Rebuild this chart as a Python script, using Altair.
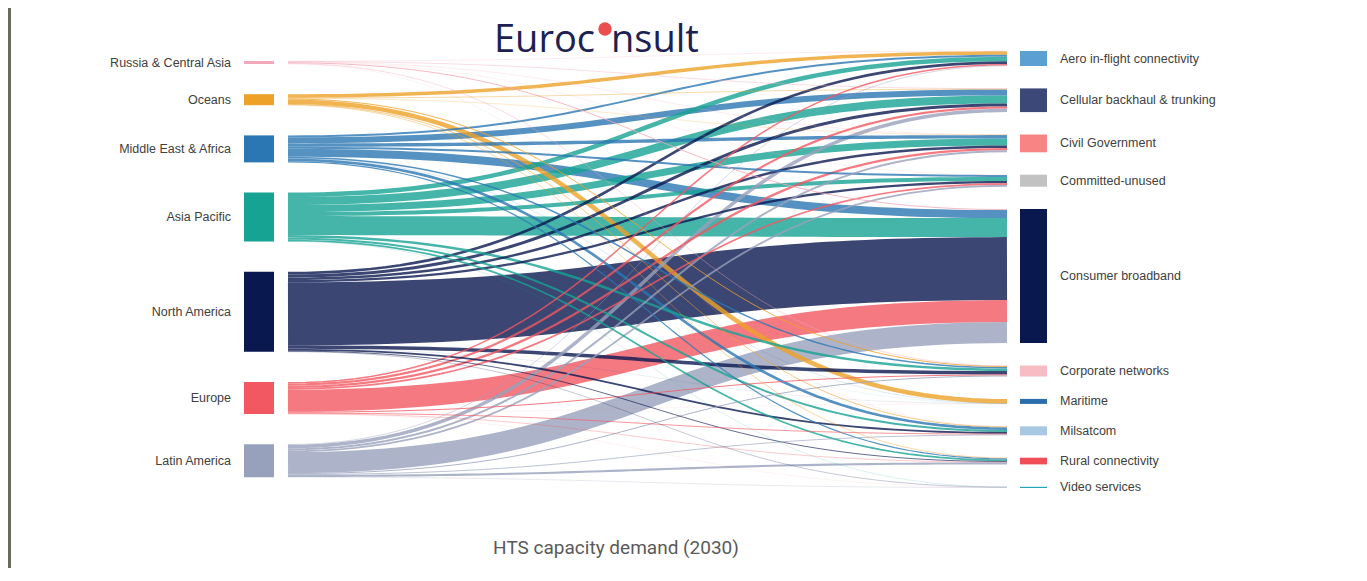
import altair as alt
import numpy as np
import pandas as pd

# ---------------- data ----------------
sources = ["Russia & Central Asia", "Oceans", "Middle East & Africa", "Asia Pacific",
           "North America", "Europe", "Latin America"]
source_colors = ["#f3a9b9", "#eda128", "#2b77b3", "#17a393", "#0a1850", "#f25862", "#98a1bb"]

targets = ["Aero in-flight connectivity", "Cellular backhaul & trunking", "Civil Government",
           "Committed-unused", "Consumer broadband", "Corporate networks", "Maritime",
           "Milsatcom", "Rural connectivity", "Video services"]
target_colors = ["#5b9fd3", "#3b4878", "#f98484", "#c2c2c2", "#0a1850", "#f8bcc4",
                 "#2a6eac", "#a8c7e3", "#ef4e57", "#26a6b5"]

# flow per target, listed in source order (Russia, Oceans, MEA, Asia Pac., N. America, Europe, Lat. America)
aero      = [0.3, 3.5, 2.0, 4.5, 2.7, 1.5, 0.5]
cellular  = [0.5, 0.5, 6.0, 8.0, 3.0, 2.2, 3.5]
civil     = [0.3, 0.3, 3.4, 7.0, 2.5, 2.3, 2.0]
committed = [0.2, 0.0, 2.0, 4.0, 2.3, 1.7, 1.8]
consumer  = [1.0, 0.0, 8.0, 19.0, 63.0, 22.0, 21.0]
corporate = [0.5, 1.0, 1.5, 2.5, 3.5, 1.0, 1.0]
maritime  = [0.0, 4.5, 0.2, 0.1, 0.1, 0.1, 0.0]
milsatcom = [0.2, 0.7, 2.7, 2.0, 1.8, 0.8, 0.8]
rural     = [0.0, 0.5, 1.2, 1.7, 0.8, 0.4, 2.1]
video     = [0.0, 0.0, 0.0, 0.2, 0.3, 0.1, 0.3]

flows = [aero, cellular, civil, committed, consumer, corporate, maritime, milsatcom, rural, video]
M = np.array(flows).T  # rows = sources, cols = targets

# ---------------- layout (page pixel space) ----------------
W, H = 1351, 560
OX, OY = 8, 8
K = 1.0                     # px per unit
LEFT_TOP, LEFT_GAP = 61, 30.2
RIGHT_TOP, RIGHT_GAP = 51, 22.4
LNODE = (244, 274)
RNODE = (1020, 1047)
LINK_X0, LINK_X1 = 288, 1007

src_tot = M.sum(axis=1)
tgt_tot = M.sum(axis=0)

src_y = []
c = LEFT_TOP
for v in src_tot:
    src_y.append(c)
    c += v * K + LEFT_GAP
tgt_y = []
c = RIGHT_TOP
for v in tgt_tot:
    tgt_y.append(c)
    c += v * K + RIGHT_GAP

# link endpoints: at source ordered by target, at target ordered by source
src_start = {}
for i in range(len(sources)):
    off = src_y[i]
    for j in range(len(targets)):
        v = M[i, j]
        if v > 0:
            src_start[(i, j)] = off + v * K / 2
            off += v * K
tgt_start = {}
for j in range(len(targets)):
    off = tgt_y[j]
    for i in range(len(sources)):
        v = M[i, j]
        if v > 0:
            tgt_start[(i, j)] = off + v * K / 2
            off += v * K

pairs = sorted(src_start.keys(), key=lambda p: -M[p])
ts = np.linspace(0, 1, 61)
xm = (LINK_X0 + LINK_X1) / 2
rows = []
for rank, (i, j) in enumerate(pairs):
    y0, y1 = src_start[(i, j)], tgt_start[(i, j)]
    for k, t in enumerate(ts):
        a = (1 - t) ** 3 + 3 * (1 - t) ** 2 * t
        b = 3 * (1 - t) * t ** 2 + t ** 3
        x = (1 - t) ** 3 * LINK_X0 + 3 * (1 - t) ** 2 * t * xm + 3 * (1 - t) * t ** 2 * xm + t ** 3 * LINK_X1
        rows.append({"id": f"L{rank:03d}", "step": k, "x": x, "y": y0 * a + y1 * b,
                     "w": M[i, j] * K, "color": source_colors[i],
                     "source": sources[i], "target": targets[j]})
link_df = pd.DataFrame(rows)

node_rows = []
for i, s in enumerate(sources):
    node_rows.append({"name": s, "x0": LNODE[0], "x1": LNODE[1], "y0": src_y[i],
                      "y1": src_y[i] + src_tot[i] * K, "color": source_colors[i],
                      "lx": LNODE[0] - 13, "ly": src_y[i] + src_tot[i] * K / 2, "side": "L"})
for j, t in enumerate(targets):
    node_rows.append({"name": t, "x0": RNODE[0], "x1": RNODE[1], "y0": tgt_y[j],
                      "y1": tgt_y[j] + max(tgt_tot[j] * K, 1.2), "color": target_colors[j],
                      "lx": RNODE[1] + 13, "ly": tgt_y[j] + tgt_tot[j] * K / 2, "side": "R"})
node_df = pd.DataFrame(node_rows)

xs = alt.Scale(domain=[OX, OX + W], nice=False, zero=False)
ys = alt.Scale(domain=[OY, OY + H], nice=False, zero=False, reverse=True)

link_layer = alt.Chart(link_df).mark_line(opacity=0.8, strokeCap="butt", strokeJoin="round").encode(
    x=alt.X("x:Q", scale=xs, axis=None),
    y=alt.Y("y:Q", scale=ys, axis=None),
    detail="id:N",
    color=alt.Color("color:N", scale=None),
    strokeWidth=alt.StrokeWidth("w:Q", scale=None),
    order="step:Q",
)

node_layer = alt.Chart(node_df).mark_rect().encode(
    x=alt.X("x0:Q", scale=xs, axis=None), x2="x1:Q",
    y=alt.Y("y0:Q", scale=ys, axis=None), y2="y1:Q",
    color=alt.Color("color:N", scale=None),
)

label_font = "Liberation Sans"
left_labels = alt.Chart(node_df[node_df.side == "L"]).mark_text(
    align="right", baseline="middle", font=label_font, fontSize=12.5, color="#404040"
).encode(x=alt.X("lx:Q", scale=xs, axis=None), y=alt.Y("ly:Q", scale=ys, axis=None), text="name:N")

right_labels = alt.Chart(node_df[node_df.side == "R"]).mark_text(
    align="left", baseline="middle", font=label_font, fontSize=12.5, color="#404040"
).encode(x=alt.X("lx:Q", scale=xs, axis=None), y=alt.Y("ly:Q", scale=ys, axis=None), text="name:N")

logo_df = pd.DataFrame({"a": [0]})
logo_left = alt.Chart(logo_df).mark_text(
    align="right", baseline="alphabetic", font="Open Sans", fontSize=38, fontWeight=500, color="#1c2152"
).encode(x=alt.value(587), y=alt.value(44), text=alt.value("Euroc"))
logo_dot = alt.Chart(logo_df).mark_point(filled=True, size=180, opacity=1, color="#ec4d4f").encode(
    x=alt.value(597), y=alt.value(21))
logo_right = alt.Chart(logo_df).mark_text(
    align="left", baseline="alphabetic", font="Open Sans", fontSize=38, fontWeight=500, color="#1c2152"
).encode(x=alt.value(603), y=alt.value(44), text=alt.value("nsult"))

caption = alt.Chart(logo_df).mark_text(
    align="center", baseline="middle", font="Roboto", fontSize=19, color="#5a5a5a"
).encode(x=alt.value(608), y=alt.value(540), text=alt.value("HTS capacity demand (2030)"))

frame = alt.Chart(logo_df).mark_rect(color="#6a695f").encode(
    x=alt.value(0), x2=alt.value(3), y=alt.value(0), y2=alt.value(H))

chart = alt.layer(
    link_layer, node_layer, left_labels, right_labels, logo_left, logo_dot, logo_right, caption, frame
).properties(
    width=W, height=H, padding=0, autosize=alt.AutoSizeParams(type="none"), background="white"
).configure_view(stroke=None)

chart.save("out.html", embed_options={"renderer": "svg", "actions": False})
